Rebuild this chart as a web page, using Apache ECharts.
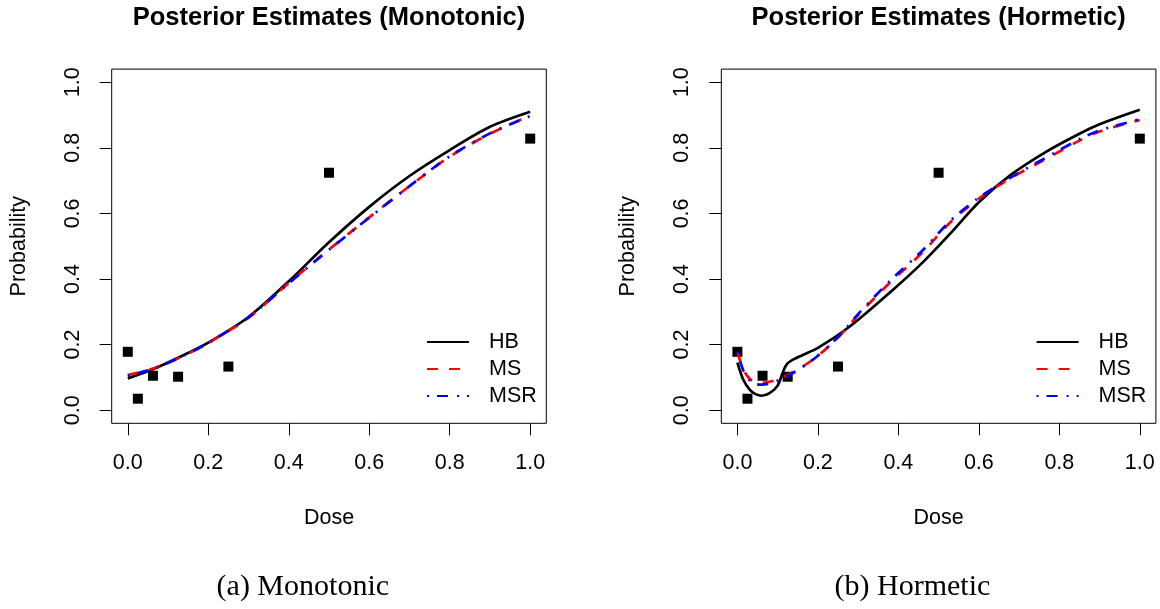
<!DOCTYPE html>
<html>
<head>
<meta charset="utf-8">
<script src="https://cdn.jsdelivr.net/npm/echarts@6/dist/echarts.min.js"></script>
<style>
html,body{margin:0;padding:0;background:#fff;}
#chart{width:1160px;height:609px;}
</style>
</head>
<body>
<div id="chart"></div>
<script>
// ---- data ----
const xTicks = [0, 0.2, 0.4, 0.6, 0.8, 1.0];
const yTicks = [0, 0.2, 0.4, 0.6, 0.8, 1.0];

const doseObs = [0, 0.025, 0.0625, 0.125, 0.25, 0.5, 1.0];
const probObs = [0.178, 0.035, 0.105, 0.102, 0.133, 0.724, 0.828];

// Monotonic panel
const monoDose = [0, 0.0625, 0.125, 0.2, 0.3, 0.4, 0.5, 0.6, 0.7, 0.8, 0.9, 1.0];
const monoHB   = [0.097, 0.125, 0.160, 0.206, 0.284, 0.393, 0.512, 0.620, 0.714, 0.793, 0.864, 0.910];
const monoMS   = [0.107, 0.127, 0.158, 0.205, 0.282, 0.388, 0.490, 0.588, 0.683, 0.773, 0.843, 0.898];
const monoMSR  = [0.105, 0.126, 0.158, 0.205, 0.283, 0.387, 0.489, 0.587, 0.683, 0.774, 0.844, 0.897];

// Hormetic panel
const hormHBDose = [0, 0.015, 0.031, 0.045, 0.06, 0.08, 0.1, 0.115, 0.124, 0.135, 0.16, 0.2, 0.28, 0.38, 0.46, 0.53, 0.6, 0.68, 0.77, 0.85, 0.9, 1.0];
const hormHB     = [0.145, 0.092, 0.062, 0.049, 0.044, 0.052, 0.075, 0.122, 0.142, 0.152, 0.167, 0.190, 0.256, 0.360, 0.450, 0.540, 0.634, 0.718, 0.790, 0.843, 0.872, 0.916];
const hormMSDose = [0, 0.015, 0.031, 0.045, 0.06, 0.085, 0.1225, 0.156, 0.197, 0.238, 0.27, 0.3, 0.38, 0.46, 0.53, 0.6, 0.68, 0.77, 0.85, 0.9, 1.0];
const hormMS     = [0.178, 0.123, 0.095, 0.086, 0.083, 0.088, 0.106, 0.128, 0.163, 0.207, 0.248, 0.290, 0.390, 0.481, 0.574, 0.645, 0.708, 0.768, 0.822, 0.850, 0.885];
const hormMSR    = [0.178, 0.120, 0.090, 0.080, 0.078, 0.083, 0.103, 0.127, 0.163, 0.208, 0.250, 0.293, 0.395, 0.487, 0.578, 0.648, 0.710, 0.772, 0.826, 0.853, 0.887];

const titles = ['Posterior Estimates (Monotonic)', 'Posterior Estimates (Hormetic)'];
const captions = ['(a) Monotonic', '(b) Hormetic'];
const seriesNames = ['HB', 'MS', 'MSR'];

// ---- build ----
const pairs = (xs, ys) => xs.map((x, i) => [x, ys[i]]);
const SANS = 'Liberation Sans, Arial, sans-serif';
const BOX_W = 434.6, BOX_H = 354.2, BOX_TOP = 69.1;
const gridLefts = [111.7, 721.3];

const grids = gridLefts.map(l => ({
  left: l, top: BOX_TOP, width: BOX_W, height: BOX_H,
  show: true, borderColor: '#000', borderWidth: 1, backgroundColor: 'transparent'
}));

const xAxes = [0, 1].map(i => ({
  gridIndex: i, type: 'value', min: -0.04, max: 1.04,
  name: 'Dose', nameLocation: 'middle', nameGap: 84,
  nameTextStyle: { fontFamily: SANS, fontSize: 21.5, color: '#000' },
  axisLine: { show: false, onZero: false },
  axisTick: { show: true, inside: false, length: 12, customValues: xTicks, lineStyle: { color: '#000', width: 1 } },
  axisLabel: { show: true, customValues: xTicks, margin: 29, formatter: v => v.toFixed(1),
    fontFamily: SANS, fontSize: 21.5, color: '#000' },
  splitLine: { show: false }
}));

const yAxes = [0, 1].map(i => ({
  gridIndex: i, type: 'value', min: -0.04, max: 1.04,
  name: 'Probability', nameLocation: 'middle', nameGap: 82,
  nameTextStyle: { fontFamily: SANS, fontSize: 21.5, color: '#000' },
  axisLine: { show: false, onZero: false },
  axisTick: { show: true, inside: false, length: 12, customValues: yTicks, lineStyle: { color: '#000', width: 1 } },
  axisLabel: { show: true, customValues: yTicks, rotate: 90, margin: 28, formatter: v => v.toFixed(1),
    fontFamily: SANS, fontSize: 21.5, color: '#000' },
  splitLine: { show: false }
}));

const lineStyles = {
  HB:  { color: '#000000', width: 2.7, type: 'solid' },
  MS:  { color: '#ff0000', width: 2.7, type: [11, 11] },
  MSR: { color: '#0000ff', width: 2.7, type: [2, 8, 11, 9] }
};

const panelData = [
  { HB: pairs(monoDose, monoHB), MS: pairs(monoDose, monoMS), MSR: pairs(monoDose, monoMSR) },
  { HB: pairs(hormHBDose, hormHB), MS: pairs(hormMSDose, hormMS), MSR: pairs(hormMSDose, hormMSR) }
];

const series = [];
[0, 1].forEach(i => {
  series.push({
    type: 'scatter', xAxisIndex: i, yAxisIndex: i, symbol: 'rect', symbolSize: 10,
    itemStyle: { color: '#000', opacity: 1 }, data: pairs(doseObs, probObs), silent: true, z: 2
  });
  seriesNames.forEach((n, k) => {
    series.push({
      name: n, type: 'line', xAxisIndex: i, yAxisIndex: i, symbol: 'none',
      smooth: 0.3,
      lineStyle: lineStyles[n], itemStyle: { color: lineStyles[n].color },
      data: panelData[i][n], z: 3 + k, animation: false
    });
  });
});

const legends = gridLefts.map(l => ({
  left: l + 314.3, top: 331, orient: 'vertical', data: seriesNames,
  itemWidth: 42, itemHeight: 14, itemGap: 5, padding: 0,
  selectedMode: false,
  itemStyle: { opacity: 0 },
  textStyle: { fontFamily: SANS, fontSize: 21.5, color: '#000', lineHeight: 22, padding: [0, 0, 0, 15] }
}));

const titleComps = [];
[0, 1].forEach(i => {
  titleComps.push({
    text: titles[i], left: gridLefts[i] + BOX_W / 2, top: 5, textAlign: 'center', padding: 0,
    textStyle: { fontFamily: SANS, fontSize: 25.5, fontWeight: 'bold', color: '#000' }
  });
});
const capCenters = [302.8, 912.4];
[0, 1].forEach(i => {
  titleComps.push({
    text: captions[i], left: capCenters[i], top: 572, textAlign: 'center', padding: 0,
    textStyle: { fontFamily: 'Liberation Serif, Times New Roman, serif', fontSize: 30, fontWeight: 'normal', color: '#000' }
  });
});

const chart = echarts.init(document.getElementById('chart'), null, { renderer: 'canvas' });
chart.setOption({
  animation: false,
  backgroundColor: '#fff',
  title: titleComps,
  grid: grids,
  xAxis: xAxes,
  yAxis: yAxes,
  legend: legends,
  series: series
});
</script>
</body>
</html>
